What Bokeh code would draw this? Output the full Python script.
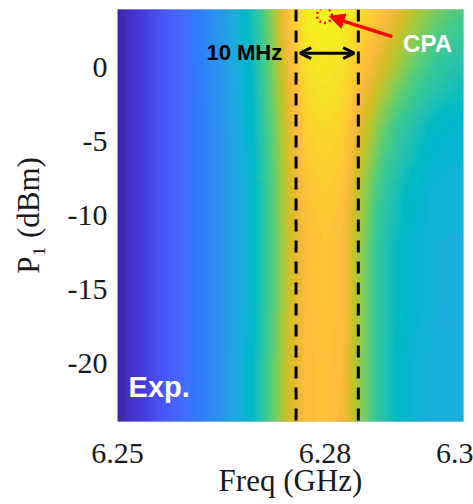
import numpy as np
from bokeh.plotting import figure
from bokeh.models import (LinearColorMapper, FixedTicker, Label, Arrow, OpenHead,
                          NormalHead, Span)
from bokeh.embed import file_html
from bokeh.resources import INLINE

# ---------------- data ----------------
freq_ghz = [6.2500, 6.2525, 6.2550, 6.2575, 6.2600, 6.2625, 6.2650, 6.2675, 6.2700,
            6.2725, 6.2750, 6.2775, 6.2800, 6.2825, 6.2850, 6.2875, 6.2900, 6.2925,
            6.2950, 6.2975, 6.3000]
power_dbm = [-24, -20, -16, -12, -8, -4, 0, 4]

# normalised colour level (0 = dark blue, 1 = yellow) for each power row
level_m24 = [0.01, 0.06, 0.12, 0.18, 0.23, 0.27, 0.33, 0.41, 0.49, 0.63, 0.77, 0.84, 0.85, 0.82, 0.69, 0.56, 0.48, 0.44, 0.42, 0.41, 0.41]
level_m20 = [0.01, 0.06, 0.12, 0.18, 0.23, 0.27, 0.33, 0.41, 0.49, 0.63, 0.77, 0.84, 0.85, 0.83, 0.69, 0.56, 0.48, 0.44, 0.42, 0.41, 0.41]
level_m16 = [0.01, 0.06, 0.12, 0.18, 0.23, 0.27, 0.33, 0.40, 0.48, 0.62, 0.76, 0.84, 0.86, 0.84, 0.70, 0.56, 0.49, 0.45, 0.43, 0.42, 0.42]
level_m12 = [0.01, 0.06, 0.12, 0.18, 0.23, 0.27, 0.33, 0.40, 0.48, 0.62, 0.76, 0.84, 0.86, 0.84, 0.70, 0.56, 0.49, 0.45, 0.43, 0.42, 0.42]
level_m8 = [0.01, 0.06, 0.12, 0.18, 0.23, 0.27, 0.33, 0.40, 0.48, 0.62, 0.77, 0.86, 0.88, 0.86, 0.73, 0.60, 0.52, 0.47, 0.44, 0.43, 0.43]
level_m4 = [0.01, 0.06, 0.12, 0.18, 0.23, 0.27, 0.33, 0.41, 0.49, 0.64, 0.79, 0.89, 0.91, 0.89, 0.79, 0.68, 0.59, 0.53, 0.48, 0.46, 0.45]
level_p0 = [0.01, 0.06, 0.12, 0.18, 0.23, 0.28, 0.34, 0.42, 0.51, 0.67, 0.83, 0.93, 0.95, 0.93, 0.86, 0.79, 0.71, 0.64, 0.58, 0.54, 0.52]
level_p4 = [0.01, 0.06, 0.12, 0.18, 0.23, 0.28, 0.35, 0.43, 0.53, 0.70, 0.87, 0.96, 0.98, 0.97, 0.92, 0.87, 0.81, 0.74, 0.68, 0.63, 0.60]

x_ticks = [6.25, 6.28, 6.3]
x_tick_labels = ["6.25", "6.28", "6.3"]
y_ticks = [-20, -15, -10, -5, 0]
y_tick_labels = ["-20", "-15", "-10", "-5", "0"]

band_edges_ghz = [6.2758, 6.2848]
band_label = "10 MHz"
cpa_freq_ghz = 6.2799
cpa_power_dbm = 3.5

# ---------------- parula colour map ----------------
parula_rgb = [
    (0.2422, 0.1504, 0.6603), (0.2504, 0.1650, 0.7076), (0.2578, 0.1818, 0.7511), (0.2647, 0.1978, 0.7952),
    (0.2706, 0.2147, 0.8364), (0.2751, 0.2342, 0.8710), (0.2783, 0.2559, 0.8991), (0.2803, 0.2782, 0.9221),
    (0.2813, 0.3006, 0.9414), (0.2810, 0.3228, 0.9579), (0.2795, 0.3447, 0.9717), (0.2760, 0.3667, 0.9829),
    (0.2699, 0.3892, 0.9906), (0.2602, 0.4123, 0.9952), (0.2440, 0.4358, 0.9988), (0.2206, 0.4603, 0.9973),
    (0.1963, 0.4847, 0.9892), (0.1834, 0.5074, 0.9798), (0.1786, 0.5289, 0.9682), (0.1764, 0.5499, 0.9520),
    (0.1687, 0.5703, 0.9359), (0.1540, 0.5902, 0.9218), (0.1460, 0.6091, 0.9079), (0.1380, 0.6276, 0.8973),
    (0.1248, 0.6459, 0.8883), (0.1113, 0.6635, 0.8763), (0.0952, 0.6798, 0.8598), (0.0689, 0.6948, 0.8394),
    (0.0297, 0.7082, 0.8163), (0.0036, 0.7203, 0.7917), (0.0067, 0.7312, 0.7660), (0.0433, 0.7411, 0.7394),
    (0.0964, 0.7500, 0.7120), (0.1408, 0.7584, 0.6842), (0.1717, 0.7670, 0.6554), (0.1938, 0.7758, 0.6251),
    (0.2161, 0.7843, 0.5923), (0.2470, 0.7918, 0.5567), (0.2906, 0.7973, 0.5188), (0.3406, 0.8008, 0.4789),
    (0.3909, 0.8029, 0.4354), (0.4456, 0.8024, 0.3909), (0.5044, 0.7993, 0.3480), (0.5616, 0.7942, 0.3045),
    (0.6174, 0.7876, 0.2612), (0.6720, 0.7793, 0.2227), (0.7242, 0.7698, 0.1910), (0.7738, 0.7598, 0.1646),
    (0.8203, 0.7498, 0.1535), (0.8634, 0.7406, 0.1596), (0.9035, 0.7330, 0.1774), (0.9393, 0.7288, 0.2100),
    (0.9728, 0.7298, 0.2394), (0.9956, 0.7434, 0.2371), (0.9970, 0.7659, 0.2199), (0.9952, 0.7893, 0.2028),
    (0.9892, 0.8136, 0.1885), (0.9786, 0.8386, 0.1766), (0.9676, 0.8639, 0.1643), (0.9610, 0.8890, 0.1537),
    (0.9597, 0.9135, 0.1423), (0.9628, 0.9373, 0.1265), (0.9691, 0.9606, 0.1064), (0.9769, 0.9839, 0.0805)]
parula = ["#%02x%02x%02x" % tuple(int(round(c * 255)) for c in rgb) for rgb in parula_rgb]

levels = np.array([level_m24, level_m20, level_m16, level_m12,
                   level_m8, level_m4, level_p0, level_p4])

# smooth (bilinear) shading of the read grid for display, like MATLAB 'interp' shading
fx = np.linspace(freq_ghz[0], freq_ghz[-1], 360)
fy = np.linspace(power_dbm[0], power_dbm[-1], 200)
tmp = np.array([np.interp(fx, freq_ghz, row) for row in levels])
shaded = np.array([np.interp(fy, power_dbm, tmp[:, j]) for j in range(len(fx))]).T

# ---------------- figure ----------------
p = figure(width=473, height=504, output_backend="svg", toolbar_location=None,
           x_range=(6.25, 6.30), y_range=(-23.95, 3.9),
           min_border_left=117, min_border_right=10, min_border_top=9, min_border_bottom=83,
           background_fill_color="white", border_fill_color="white")

mapper = LinearColorMapper(palette=parula, low=0.0, high=1.0)
p.image(image=[shaded], x=freq_ghz[0], y=power_dbm[0],
        dw=freq_ghz[-1] - freq_ghz[0], dh=power_dbm[-1] - power_dbm[0],
        color_mapper=mapper)

p.grid.visible = False
p.outline_line_color = "#c8c8c8"
p.outline_line_width = 1

for ax in (p.xaxis[0], p.yaxis[0]):
    ax.axis_line_color = None
    ax.major_tick_line_color = None
    ax.minor_tick_line_color = None
    ax.major_tick_in = 0
    ax.major_tick_out = 0
    ax.major_label_text_font = "Liberation Serif"
    ax.major_label_text_font_size = "30px"
    ax.major_label_text_color = "#1a1a1a"
    ax.axis_label_text_font = "Liberation Serif"
    ax.axis_label_text_font_size = "31px"
    ax.axis_label_text_font_style = "normal"
    ax.axis_label_text_color = "#1a1a1a"

p.xaxis.ticker = FixedTicker(ticks=x_ticks)
p.xaxis.major_label_overrides = {t: s for t, s in zip(x_ticks, x_tick_labels)}
p.xaxis.axis_label = "Freq (GHz)"
p.xaxis.major_label_standoff = 22
p.xaxis.axis_label_standoff = -3

p.yaxis.ticker = FixedTicker(ticks=y_ticks)
p.yaxis.major_label_overrides = {t: s for t, s in zip(y_ticks, y_tick_labels)}
p.yaxis.axis_label = "P\u2081 (dBm)"
p.yaxis.major_label_standoff = 10
p.yaxis.axis_label_standoff = 19

# dashed band edges
for xe in band_edges_ghz:
    p.add_layout(Span(location=xe, dimension="height", line_color="black",
                      line_width=3, line_dash="12 9"))

# double-headed arrow marking the band width
p.add_layout(Arrow(x_start=band_edges_ghz[0] + 0.0006, y_start=0.95,
                   x_end=band_edges_ghz[1] - 0.0006, y_end=0.95,
                   start=OpenHead(size=11, line_width=3, line_color="black"),
                   end=OpenHead(size=11, line_width=3, line_color="black"),
                   line_width=3, line_color="black"))
p.add_layout(Label(x=6.2738, y=0.98, text=band_label, text_align="right",
                   text_baseline="middle", text_font="Liberation Sans",
                   text_font_style="bold", text_font_size="22px", text_color="black"))

# CPA marker
p.scatter([cpa_freq_ghz], [cpa_power_dbm], marker="circle", size=15, fill_color=None,
          line_color="red", line_width=2.5, line_dash="2 3")
p.add_layout(Arrow(x_start=6.2897, y_start=2.07, x_end=6.2806, y_end=3.42,
                   end=NormalHead(size=15, fill_color="red", line_color="red"),
                   line_width=3.5, line_color="red"))
p.add_layout(Label(x=6.2948, y=1.6, text="CPA", text_align="center",
                   text_baseline="middle", text_font="Liberation Sans",
                   text_font_style="bold", text_font_size="24px", text_color="white"))

p.add_layout(Label(x=6.2516, y=-21.6, text="Exp.", text_align="left",
                   text_baseline="middle", text_font="Liberation Sans",
                   text_font_style="bold", text_font_size="29px", text_color="white"))

open("out.html", "w").write(file_html(p, INLINE))
